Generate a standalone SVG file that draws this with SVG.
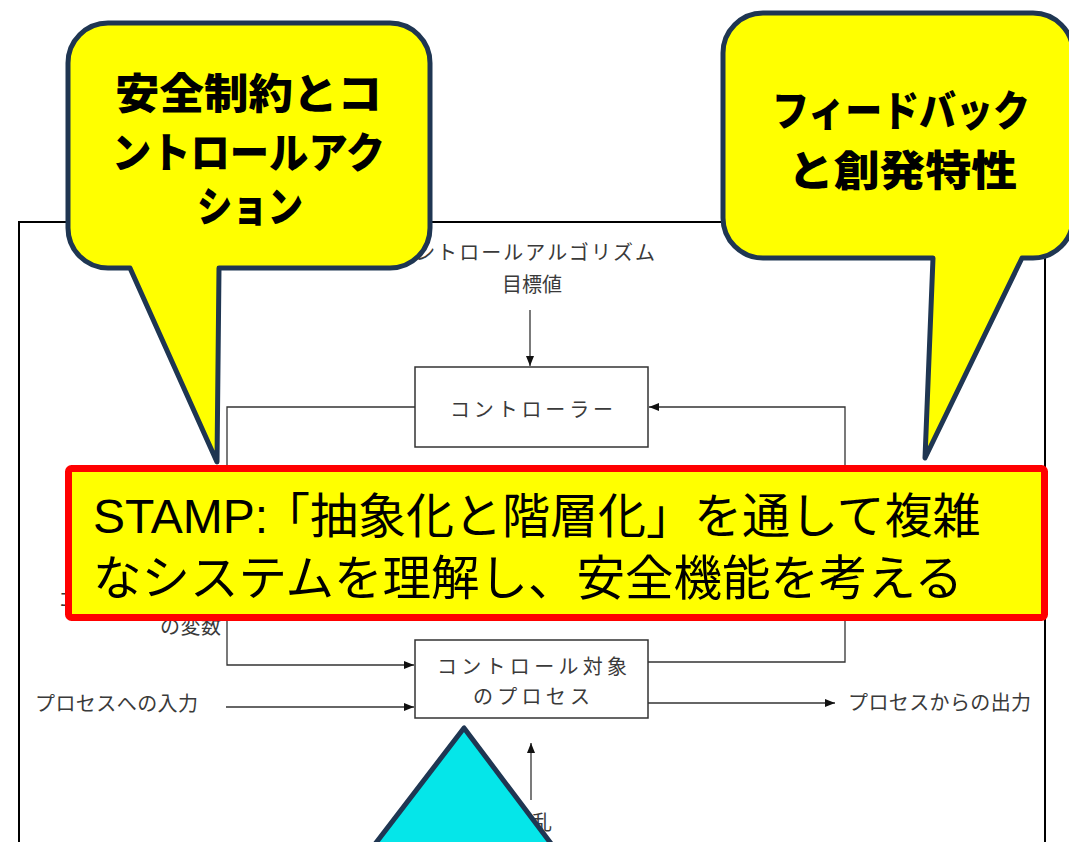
<svg xmlns="http://www.w3.org/2000/svg" width="1069" height="842" viewBox="0 0 1069 842">
<style>
.lbl{font-family:"Noto Sans CJK JP","Liberation Sans",sans-serif;font-size:20px;fill:#3a3a3a;font-weight:400}
.ln{fill:none;stroke:#333;stroke-width:1.3}
.box{fill:#fff;stroke:#333;stroke-width:1.5}
.callout{fill:#ffff00;stroke:#1f3652;stroke-width:5;stroke-linejoin:round}
.ctext{font-family:"Noto Sans CJK JP",sans-serif;font-weight:900;font-size:42px;fill:#000}
.btext{font-family:"Liberation Sans","Noto Sans CJK JP",sans-serif;font-size:48px;fill:#000}
</style>
<defs>
<marker id="ah" markerUnits="userSpaceOnUse" markerWidth="10" markerHeight="8" refX="10" refY="4" orient="auto">
<path d="M0,0 L10,4 L0,8 z" fill="#111"/>
</marker>
</defs>
<rect width="1069" height="842" fill="#fff"/>
<rect id="frame" x="19" y="222" width="1026" height="700" fill="none" stroke="#000" stroke-width="2"/>

<g id="connectors">
<line class="ln" x1="530" y1="310" x2="530" y2="366" marker-end="url(#ah)"/>
<polyline class="ln" points="415,407 227,407 227,665 414,665" marker-end="url(#ah)"/>
<polyline class="ln" points="648,662 845,662 845,407 649,407" marker-end="url(#ah)"/>
<line class="ln" x1="226" y1="707" x2="414" y2="707" marker-end="url(#ah)"/>
<line class="ln" x1="648" y1="703" x2="835" y2="703" marker-end="url(#ah)"/>
<line class="ln" x1="531" y1="800" x2="531" y2="743" marker-end="url(#ah)"/>
</g>

<g id="labels">
<text class="lbl" x="393" y="260" textLength="262" lengthAdjust="spacing">コントロールアルゴリズム</text>
<text class="lbl" x="532" y="292" text-anchor="middle">目標値</text>
<text class="lbl" x="58" y="607" textLength="164" lengthAdjust="spacing">コントロールされる</text>
<text class="lbl" x="160" y="634" textLength="61" lengthAdjust="spacing">の変数</text>
<text class="lbl" x="35" y="711" textLength="163" lengthAdjust="spacing">プロセスへの入力</text>
<text class="lbl" x="848" y="710" textLength="183" lengthAdjust="spacing">プロセスからの出力</text>
<text class="lbl" x="513" y="830" textLength="39" lengthAdjust="spacing">外乱</text>
</g>

<g id="controller">
<rect class="box" x="415" y="367" width="233" height="80"/>
<text class="lbl" x="450" y="417" textLength="163" lengthAdjust="spacing">コントローラー</text>
</g>

<g id="process">
<rect class="box" x="415" y="640" width="233" height="78"/>
<text class="lbl" x="437" y="674" textLength="190" lengthAdjust="spacing">コントロール対象</text>
<text class="lbl" x="473" y="704" textLength="117" lengthAdjust="spacing">のプロセス</text>
</g>

<g id="callout-left">
<path class="callout" d="M108,23 H390 A40,40 0 0 1 430,63 V228 A40,40 0 0 1 390,268 H219 L217,462 L130,268 H108 A40,40 0 0 1 68,228 V63 A40,40 0 0 1 108,23 Z"/>
<text class="ctext" x="115" y="109" textLength="267" lengthAdjust="spacingAndGlyphs">安全制約とコ</text>
<text class="ctext" x="112" y="168" textLength="273" lengthAdjust="spacingAndGlyphs">ントロールアク</text>
<text class="ctext" x="197" y="222" textLength="106" lengthAdjust="spacingAndGlyphs">ション</text>
</g>

<g id="callout-right">
<path class="callout" d="M763,13 H1033 A40,40 0 0 1 1073,53 V218 A40,40 0 0 1 1033,258 H1022 L925,458 L933,258 H763 A40,40 0 0 1 723,218 V53 A40,40 0 0 1 763,13 Z"/>
<text class="ctext" x="772" y="126" textLength="258" lengthAdjust="spacingAndGlyphs" font-size="44">フィードバック</text>
<text class="ctext" x="788" y="186" textLength="229" lengthAdjust="spacingAndGlyphs" font-size="44">と創発特性</text>
</g>

<g id="banner">
<rect x="68.5" y="468.5" width="976" height="149" rx="3" fill="#ffff00" stroke="#ff0000" stroke-width="7"/>
<text class="btext" y="533"><tspan x="93">STAMP:</tspan><tspan x="262">「抽象化と階層化」を通して複雑</tspan></text>
<text class="btext" x="93" y="595" textLength="870" lengthAdjust="spacingAndGlyphs">なシステムを理解し、安全機能を考える</text>
</g>

<g id="triangle">
<polygon points="464,728 290,955 635,955" fill="#05e6e9" stroke="#1f3652" stroke-width="5" stroke-linejoin="round"/>
</g>
</svg>
